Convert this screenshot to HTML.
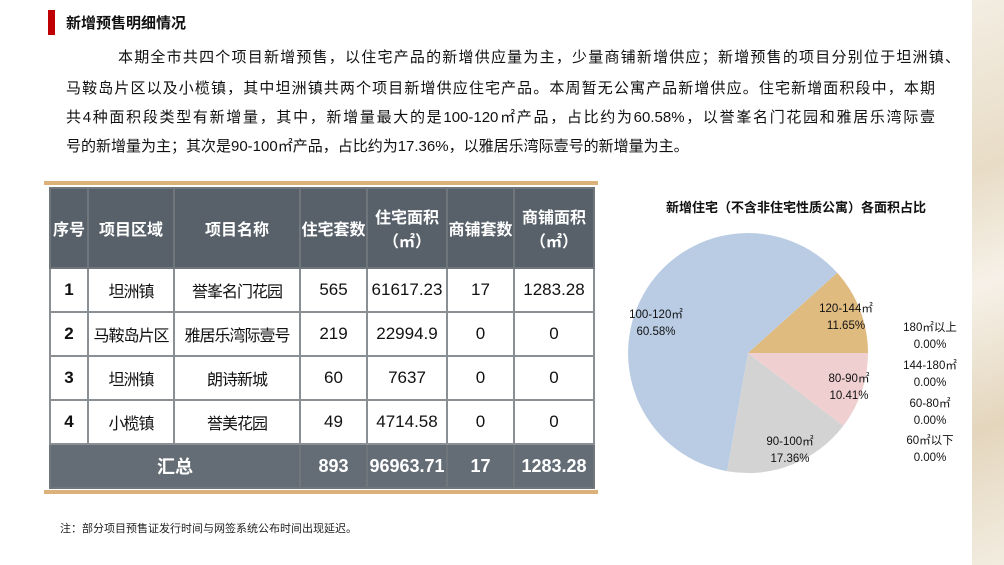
<!DOCTYPE html><html><head><meta charset="utf-8"><style>
body{margin:0;width:1004px;height:565px;overflow:hidden;background:#fff;font-family:"Liberation Sans","Noto Sans CJK SC",sans-serif;position:relative}
.strip{position:absolute;left:972px;top:0;width:32px;height:565px;background:linear-gradient(160deg,#f3ede2,#e8dcc6 30%,#f6f1e8 50%,#e4d6bd 75%,#f2ece0)}
.bar{position:absolute;left:48px;top:10px;width:7px;height:25px;background:#c00000}
.title{position:absolute;left:66px;top:12px;font-size:15px;font-weight:bold;color:#111}
.l{position:absolute;font-size:15px;color:#111;white-space:nowrap;text-align:justify;text-align-last:justify;line-height:20px}
table{position:absolute;left:49px;top:187px;border-collapse:collapse;font-size:17px;color:#111;table-layout:fixed;width:544px}
td{border:2px solid #8a8f93;text-align:center;padding:0;white-space:nowrap;overflow:hidden}
.c{font-size:16px;letter-spacing:-1px}
.h td{background:#58616a;color:#fff;font-weight:bold;height:78px;border-color:#6f767c;font-size:16px}
.r td{height:42px;background:#fff}
.t td{background:#646d75;color:#fff;font-weight:bold;height:42px;font-size:18px;border-color:#6f767c}
.gold{position:absolute;left:44px;width:554px;height:4px;background:#dcb27a}
.note{position:absolute;left:60px;top:520px;font-size:11px;color:#222}
svg text{font-family:"Liberation Sans","Noto Sans CJK SC",sans-serif;font-size:11.5px}
</style></head><body>
<div class="strip"></div>
<div class="bar"></div><div class="title">新增预售明细情况</div>
<div class="l" style="left:118px;top:48px;width:842px">本期全市共四个项目新增预售，以住宅产品的新增供应量为主，少量商铺新增供应；新增预售的项目分别位于坦洲镇、</div>
<div class="l" style="left:66px;top:79px;width:869px">马鞍岛片区以及小榄镇，其中坦洲镇共两个项目新增供应住宅产品。本周暂无公寓产品新增供应。住宅新增面积段中，本期</div>
<div class="l" style="left:66px;top:108px;width:869px">共4种面积段类型有新增量，其中，新增量最大的是100-120㎡产品，占比约为60.58%，以誉峯名门花园和雅居乐湾际壹</div>
<div class="l" style="left:66px;top:137px">号的新增量为主；其次是90-100㎡产品，占比约为17.36%，以雅居乐湾际壹号的新增量为主。</div>
<div class="gold" style="top:181px"></div><div class="gold" style="top:490px"></div>
<table>
<colgroup><col style="width:38px"><col style="width:86px"><col style="width:126px"><col style="width:67px"><col style="width:80px"><col style="width:67px"><col style="width:80px"></colgroup>
<tr class="h"><td>序号</td><td>项目区域</td><td>项目名称</td><td>住宅套数</td><td>住宅面积<br>（㎡）</td><td>商铺套数</td><td>商铺面积<br>（㎡）</td></tr>
<tr class="r"><td><b>1</b></td><td class="c">坦洲镇</td><td class="c">誉峯名门花园</td><td>565</td><td>61617.23</td><td>17</td><td>1283.28</td></tr>
<tr class="r"><td><b>2</b></td><td class="c">马鞍岛片区</td><td class="c">雅居乐湾际壹号</td><td>219</td><td>22994.9</td><td>0</td><td>0</td></tr>
<tr class="r"><td><b>3</b></td><td class="c">坦洲镇</td><td class="c">朗诗新城</td><td>60</td><td>7637</td><td>0</td><td>0</td></tr>
<tr class="r"><td><b>4</b></td><td class="c">小榄镇</td><td class="c">誉美花园</td><td>49</td><td>4714.58</td><td>0</td><td>0</td></tr>
<tr class="t"><td colspan="3">汇总</td><td>893</td><td>96963.71</td><td>17</td><td>1283.28</td></tr>
</table>
<div class="note">注：部分项目预售证发行时间与网签系统公布时间出现延迟。</div>
<svg style="position:absolute;left:0;top:0" width="1004" height="565">
<text x="796" y="212" text-anchor="middle" style="font-size:13px;font-weight:bold" fill="#111">新增住宅（不含非住宅性质公寓）各面积占比</text>
<g transform="translate(748,353)">
<path d="M0,0 L120,0 A120,120 0 0 0 89.2,-80.3 Z" fill="#e0bb80"/>
<path d="M0,0 L89.2,-80.3 A120,120 0 1 0 -20.9,118.2 Z" fill="#b9cce4"/>
<path d="M0,0 L-20.9,118.2 A120,120 0 0 0 95.3,72.9 Z" fill="#d3d3d3"/>
<path d="M0,0 L95.3,72.9 A120,120 0 0 0 120,0 Z" fill="#efcfcf"/>
</g>
<g fill="#111" text-anchor="middle">
<text x="656" y="318">100-120㎡</text><text x="656" y="335">60.58%</text>
<text x="846" y="312">120-144㎡</text><text x="846" y="329">11.65%</text>
<text x="930" y="331">180㎡以上</text><text x="930" y="348">0.00%</text>
<text x="930" y="369">144-180㎡</text><text x="930" y="386">0.00%</text>
<text x="849" y="382">80-90㎡</text><text x="849" y="399">10.41%</text>
<text x="930" y="407">60-80㎡</text><text x="930" y="424">0.00%</text>
<text x="790" y="445">90-100㎡</text><text x="790" y="462">17.36%</text>
<text x="930" y="444">60㎡以下</text><text x="930" y="461">0.00%</text>
</g>
</svg>
</body></html>
